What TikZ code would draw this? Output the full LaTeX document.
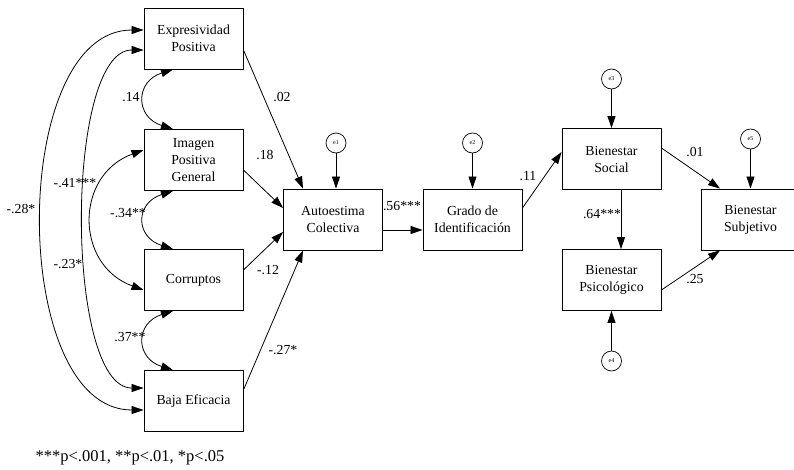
\documentclass[tikz,border=0pt]{standalone}
\usepackage{fontspec}
\setmainfont{Liberation Serif}
\usetikzlibrary{arrows.meta}
\begin{document}
\begin{tikzpicture}[x=1pt,y=-1pt,
  box/.style={draw, line width=0.9pt, minimum width=99pt, minimum height=61pt, inner sep=0pt, align=center, font=\fontsize{13.8}{17}\selectfont},
  err/.style={draw, circle, minimum size=20pt, inner sep=0pt, line width=0.7pt, font=\fontsize{6}{7}\selectfont},
  arr/.style={-{Triangle[length=12pt,width=8pt]}, line width=0.8pt},
  cov/.style={{Triangle[length=12pt,width=8pt]}-{Triangle[length=12pt,width=8pt]}, line width=0.8pt},
  lab/.style={font=\fontsize{13.8}{17}\selectfont, inner sep=0pt}]
\useasboundingbox (0,0) rectangle (794,469);
\clip (0,0) rectangle (794,469);
% boxes
\node[box] (EP)  at (193.5,38.5) {Expresividad\\Positiva};
\node[box] (IPG) at (193.5,160) {Imagen\\Positiva\\General};
\node[box] (COR) at (193.5,280) {Corruptos};
\node[box] (BE)  at (193.5,401) {Baja Eficacia};
\node[box] (AC)  at (333,219.5) {Autoestima\\Colectiva};
\node[box] (GI)  at (472.5,219.5) {Grado de\\Identificación};
\node[box] (BS)  at (611.5,159) {Bienestar\\Social};
\node[box] (BP)  at (611.5,280) {Bienestar\\Psicológico};
\node[box] (BSu) at (750.5,219.5) {Bienestar\\Subjetivo};
% error terms
\node[err] (e1) at (336,143) {e1};
\node[err] (e2) at (472.5,143) {e2};
\node[err] (e3) at (611.5,79) {e3};
\node[err] (e4) at (611.5,361) {e4};
\node[err] (e5) at (750.5,139) {e5};
% paths
\draw[arr] ([yshift=-11.5pt]EP.east) -- ([xshift=-30pt]AC.north);
\draw[arr] ([yshift=-10pt]IPG.east) -- ([yshift=11.5pt]AC.west);
\draw[arr] ([yshift=10pt]COR.east) -- ([yshift=-12.5pt]AC.west);
\draw[arr] ([yshift=11pt]BE.east) -- ([xshift=-30pt]AC.south);
\draw[arr] (e1) -- (e1 |- AC.north);
\draw[arr] ([yshift=-10.5pt]AC.east) -- ([yshift=-10.5pt]GI.west);
\draw[arr] (e2) -- (GI.north);
\draw[arr] ([yshift=11.5pt]GI.east) -- ([yshift=7pt]BS.west);
\draw[arr] (e3) -- (BS.north);
\draw[arr] ([xshift=9.5pt]BS.south) -- ([xshift=9.5pt]BP.north);
\draw[arr] (e4) -- (BP.south);
\draw[arr] ([yshift=11pt]BS.east) -- ([xshift=-30.5pt]BSu.north);
\draw[arr] ([yshift=-10pt]BP.east) -- ([xshift=-30.5pt]BSu.south);
\draw[arr] (e5) -- (BSu.north);
% covariances
\draw[cov] ([xshift=-20.5pt]EP.south) .. controls +(-38,12) and +(-38,-12) .. ([xshift=-20.5pt]IPG.north);
\draw[cov] ([xshift=-20.5pt]IPG.south) .. controls +(-38,12) and +(-38,-12) .. ([xshift=-20.5pt]COR.north);
\draw[cov] ([xshift=-20.5pt]COR.south) .. controls +(-38,12) and +(-38,-12) .. ([xshift=-20.5pt]BE.north);
\draw[cov] ([yshift=8.5pt]EP.west) .. controls +(-135,0) and +(-135,0) .. ([yshift=-9pt]BE.west);
\draw[cov] ([yshift=-11.5pt]EP.west) .. controls +(-79,0) and +(-79,0) .. ([yshift=13pt]BE.west);
\draw[cov] ([yshift=10pt]IPG.west) .. controls +(-69,25) and +(-69,-25) .. ([yshift=-10pt]COR.west);
% labels
\node[lab] (l1) at (282,97) {.02};
\node[lab] (l2) at (265,155) {.18};
\node[lab] (l3) at (268,270) {-.12};
\node[lab] (l4) at (283,350) {-.27*};
\node[lab] (l5) at (402,206) {.56***};
\node[lab] (l6) at (528,176) {.11};
\node[lab] (l7) at (695,152) {.01};
\node[lab] (l8) at (602,214) {.64***};
\node[lab] (l9) at (695,279) {.25};
\node[lab] (l10) at (131,97) {.14};
\node[lab] (l11) at (75,183) {-.41***};
\node[lab] (l12) at (21,209) {-.28*};
\node[lab] (l13) at (128,213) {-.34**};
\node[lab] (l14) at (68,264) {-.23*};
\node[lab] (l15) at (130,337) {.37**};
\node[font=\fontsize{16.5}{20}\selectfont, inner sep=0pt] (fn) at (130,458) {***p<.001, **p<.01, *p<.05};
\end{tikzpicture}
\end{document}
